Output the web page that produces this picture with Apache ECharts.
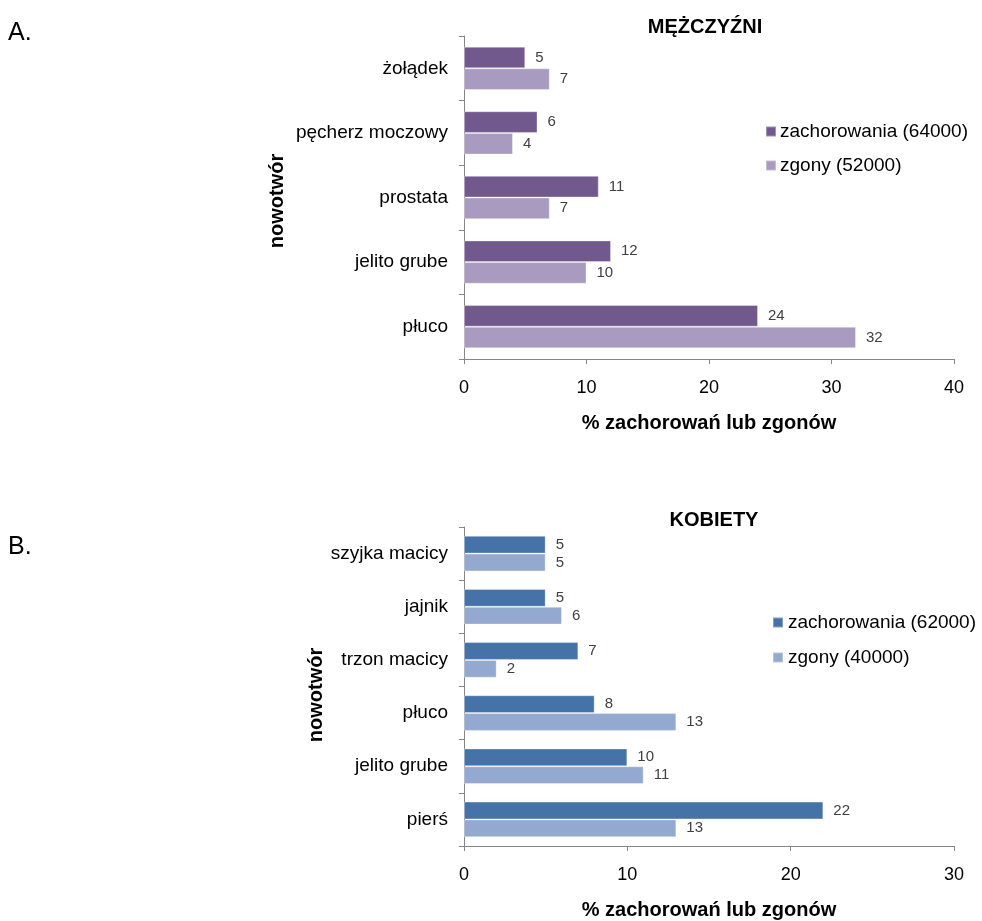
<!DOCTYPE html>
<html>
<head>
<meta charset="utf-8">
<script src="https://cdn.jsdelivr.net/npm/echarts@6/dist/echarts.min.js"></script>
<style>
html,body{margin:0;padding:0;background:#fff;}
#c{width:982px;height:921px;}
</style>
</head>
<body>
<div id="c"></div>
<script>
// Chart A: MĘŻCZYŹNI
var catsA = ['żołądek', 'pęcherz moczowy', 'prostata', 'jelito grube', 'płuco'];
var zachA = [5, 6, 11, 12, 24];
var zgonA = [7, 4, 7, 10, 32];
var legendA = ['zachorowania (64000)', 'zgony (52000)'];
var ticksA = [0, 10, 20, 30, 40];

// Chart B: KOBIETY
var catsB = ['szyjka macicy', 'jajnik', 'trzon macicy', 'płuco', 'jelito grube', 'pierś'];
var zachB = [5, 5, 7, 8, 10, 22];
var zgonB = [5, 6, 2, 13, 11, 13];
var legendB = ['zachorowania (62000)', 'zgony (40000)'];
var ticksB = [0, 10, 20, 30];

var FONT = '"Liberation Sans", Arial, sans-serif';
var colA = ['#71598e', '#a89bbf'];
var colB = ['#4572a7', '#93a9cf'];

function valAxis(gi, ticks) {
  return {
    type: 'value', gridIndex: gi, min: ticks[0], max: ticks[ticks.length - 1], interval: 10,
    splitLine: {show: false},
    axisLine: {show: true, lineStyle: {color: '#868686', width: 1}},
    axisTick: {show: true, length: 5, lineStyle: {color: '#868686'}},
    axisLabel: {color: '#000', fontFamily: FONT, fontSize: 18, margin: 20},
    name: '% zachorowań lub zgonów', nameLocation: 'middle', nameGap: 54,
    nameTextStyle: {color: '#000', fontFamily: FONT, fontSize: 20, fontWeight: 'bold'}
  };
}
function catAxis(gi, cats) {
  return {
    type: 'category', gridIndex: gi, data: cats, inverse: true,
    axisLine: {show: true, lineStyle: {color: '#868686', width: 1}},
    axisTick: {show: true, length: 5, lineStyle: {color: '#868686'}},
    axisLabel: {color: '#000', fontFamily: FONT, fontSize: 19, margin: 16}
  };
}
function barSeries(name, data, gi, color) {
  return {
    type: 'bar', name: name, data: data, xAxisIndex: gi, yAxisIndex: gi,
    barGap: '0%', barCategoryGap: '33%',
    itemStyle: {color: color, borderColor: 'rgba(255,255,255,0.35)', borderWidth: 1},
    label: {show: true, position: 'right', distance: 10, color: '#404040', fontFamily: FONT, fontSize: 15},
    animation: false
  };
}

var chart = echarts.init(document.getElementById('c'), null, {renderer: 'canvas'});
chart.setOption({
  backgroundColor: '#fff',
  animation: false,
  title: [
    {text: 'MĘŻCZYŹNI', left: 700, top: 12, textAlign: 'center',
     textStyle: {fontFamily: FONT, fontSize: 20, fontWeight: 'bold', color: '#000'}},
    {text: 'KOBIETY', left: 709, top: 505, textAlign: 'center',
     textStyle: {fontFamily: FONT, fontSize: 20, fontWeight: 'bold', color: '#000'}}
  ],
  graphic: [
    {type: 'text', left: 8, top: 21, style: {text: 'A.', font: '25px ' + FONT, fill: '#000'}},
    {type: 'text', left: 8, top: 535, style: {text: 'B.', font: '25px ' + FONT, fill: '#000'}},
    {type: 'text', x: 277, y: 201, rotation: Math.PI / 2,
     style: {text: 'nowotwór', font: 'bold 20px ' + FONT, fill: '#000', align: 'center', verticalAlign: 'middle'}},
    {type: 'text', x: 316, y: 695, rotation: Math.PI / 2,
     style: {text: 'nowotwór', font: 'bold 20px ' + FONT, fill: '#000', align: 'center', verticalAlign: 'middle'}}
  ],
  legend: [
    {data: legendA.map(function (n, i) { return {name: n, itemStyle: {color: colA[i]}}; }),
     orient: 'vertical', left: 760, top: 117, itemWidth: 10, itemHeight: 10, itemGap: 15, icon: 'rect',
     textStyle: {fontFamily: FONT, fontSize: 19, color: '#000', padding: [0, 0, 0, -1]}},
    {data: legendB.map(function (n, i) { return {name: n, itemStyle: {color: colB[i]}}; }),
     orient: 'vertical', left: 767, top: 608, itemWidth: 10, itemHeight: 10, itemGap: 16, icon: 'rect',
     textStyle: {fontFamily: FONT, fontSize: 19, color: '#000', padding: [0, 0, 0, 0]}}
  ],
  grid: [
    {left: 464, top: 36, width: 490, height: 323, containLabel: false},
    {left: 464, top: 527, width: 490, height: 324, containLabel: false}
  ],
  xAxis: [valAxis(0, ticksA), valAxis(1, ticksB)],
  yAxis: [catAxis(0, catsA), catAxis(1, catsB)],
  series: [
    barSeries(legendA[0], zachA, 0, colA[0]),
    barSeries(legendA[1], zgonA, 0, colA[1]),
    barSeries(legendB[0], zachB, 1, colB[0]),
    barSeries(legendB[1], zgonB, 1, colB[1])
  ]
});
</script>
</body>
</html>
